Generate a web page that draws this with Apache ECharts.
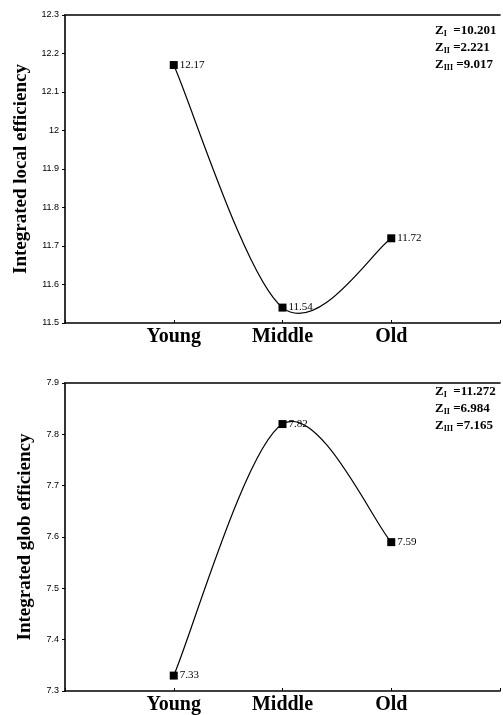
<!DOCTYPE html>
<html>
<head>
<meta charset="utf-8">
<script src="https://cdn.jsdelivr.net/npm/echarts@6/dist/echarts.min.js"></script>
<style>
  html, body { margin: 0; padding: 0; background: #fff; }
  #chart { width: 503px; height: 715px; }
</style>
</head>
<body>
<div id="chart"></div>
<script>
// Age groups along the x axis
const groups = ['Young', 'Middle', 'Old'];

// Integrated local efficiency per age group
const localEff = [12.17, 11.54, 11.72];
// Integrated global efficiency per age group
const globEff = [7.33, 7.82, 7.59];

// Test statistics printed in each panel
const localZ = ['10.201', '2.221', '9.017'];
const globZ = ['11.272', '6.984', '7.165'];
const zSubs = ['I', 'II', 'III'];
const zGaps = ['  ', ' ', ' '];

const serif = '"Liberation Serif", "Times New Roman", serif';

const toPoints = vals => vals.map((v, i) => [i + 1, v]);

function xAxisFor(gridIndex) {
  return {
    type: 'value', gridIndex: gridIndex, min: 0, max: 4, interval: 1,
    splitLine: { show: false },
    axisLine: { show: true, lineStyle: { color: '#000', width: 1.6 } },
    axisTick: { show: true, inside: true, length: 3, lineStyle: { color: '#000', width: 1 } },
    axisLabel: {
      color: '#000', fontFamily: serif, fontWeight: 'bold', fontSize: 20, margin: 4,
      formatter: v => groups[v - 1] || ''
    }
  };
}

function topLineFor(gridIndex) {
  return {
    type: 'value', gridIndex: gridIndex, min: 0, max: 4, position: 'top',
    splitLine: { show: false },
    axisLine: { show: true, lineStyle: { color: '#000', width: 1.6 } },
    axisTick: { show: false }, axisLabel: { show: false }
  };
}

function yAxisFor(gridIndex, min, max, name) {
  return {
    type: 'value', gridIndex: gridIndex, min: min, max: max, interval: 0.1,
    name: name, nameLocation: 'middle', nameGap: 30, nameRotate: 90,
    nameTextStyle: { color: '#000', fontFamily: serif, fontWeight: 'bold', fontSize: 19 },
    splitLine: { show: false },
    axisLine: { show: true, lineStyle: { color: '#000', width: 1.6 } },
    axisTick: { show: true, length: 3, lineStyle: { color: '#000', width: 1 } },
    axisLabel: {
      color: '#000', fontFamily: '"Liberation Sans", Arial, sans-serif', fontSize: 9, margin: 6,
      formatter: v => String(Math.round(v * 10) / 10)
    }
  };
}

// Smoothed connecting curve: cubic Bezier segments whose tangents follow
// the neighbouring points (one sixth of the chord), in pixel space.
function curveFor(idx, vals) {
  return {
    type: 'custom', coordinateSystem: 'cartesian2d',
    xAxisIndex: idx * 2, yAxisIndex: idx,
    data: toPoints(vals), silent: true, z: 1,
    renderItem: function (params, api) {
      if (params.dataIndex !== 0) return null;
      const pts = vals.map((v, i) => api.coord([i + 1, v]));
      const n = pts.length;
      const at = i => pts[Math.max(0, Math.min(n - 1, i))];
      const children = [];
      for (let i = 0; i < n - 1; i++) {
        const p0 = at(i - 1), p1 = at(i), p2 = at(i + 1), p3 = at(i + 2);
        children.push({
          type: 'bezierCurve',
          shape: {
            x1: p1[0], y1: p1[1],
            cpx1: p1[0] + (p2[0] - p0[0]) / 6, cpy1: p1[1] + (p2[1] - p0[1]) / 6,
            cpx2: p2[0] - (p3[0] - p1[0]) / 6, cpy2: p2[1] - (p3[1] - p1[1]) / 6,
            x2: p2[0], y2: p2[1]
          },
          style: { fill: null, stroke: '#000', lineWidth: 1.2 }
        });
      }
      return { type: 'group', children: children };
    }
  };
}

function markersFor(idx, vals) {
  return {
    type: 'line', xAxisIndex: idx * 2, yAxisIndex: idx,
    data: toPoints(vals), z: 3,
    symbol: 'rect', symbolSize: 8,
    lineStyle: { opacity: 0 },
    itemStyle: { color: '#000' },
    label: {
      show: true, position: 'right', distance: 2,
      color: '#000', fontFamily: serif, fontSize: 11,
      formatter: p => p.value[1].toFixed(2)
    }
  };
}

function zTexts(values, top) {
  return values.map((v, i) => ({
    type: 'text', left: 435, top: top + i * 17,
    style: {
      text: '{z|Z}{s|' + zSubs[i] + '}{z|' + zGaps[i] + '=' + v + '}',
      rich: {
        z: { fontFamily: serif, fontWeight: 'bold', fontSize: 13, lineHeight: 15, fill: '#000' },
        s: { fontFamily: serif, fontWeight: 'bold', fontSize: 8, lineHeight: 9, verticalAlign: 'bottom', fill: '#000' }
      }
    }
  }));
}

const chart = echarts.init(document.getElementById('chart'), null, { renderer: 'canvas' });
chart.setOption({
  animation: false,
  backgroundColor: '#fff',
  grid: [
    { left: 65, top: 15, right: -5, height: 308 },
    { left: 65, top: 383, right: -5, height: 309 }
  ],
  xAxis: [xAxisFor(0), topLineFor(0), xAxisFor(1), topLineFor(1)],
  yAxis: [
    yAxisFor(0, 11.5, 12.3, 'Integrated local efficiency'),
    yAxisFor(1, 7.3, 7.9, 'Integrated glob efficiency')
  ],
  series: [
    curveFor(0, localEff), markersFor(0, localEff),
    curveFor(1, globEff), markersFor(1, globEff)
  ],
  graphic: [].concat(zTexts(localZ, 24), zTexts(globZ, 385))
});
</script>
</body>
</html>
